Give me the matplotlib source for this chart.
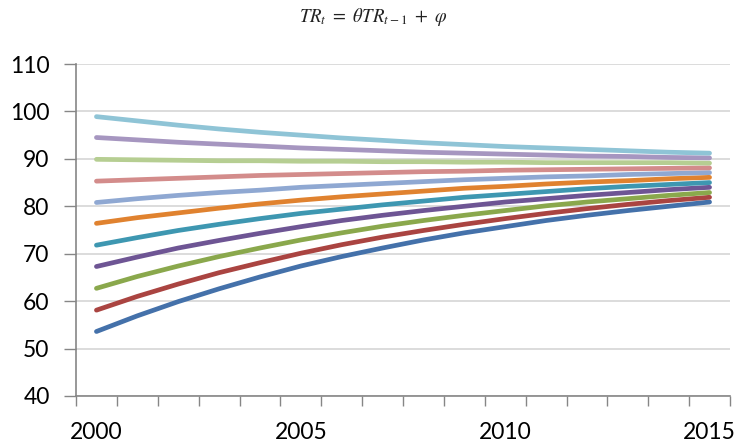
import matplotlib
matplotlib.use("Agg")
import matplotlib.pyplot as plt
from matplotlib.ticker import FixedLocator

years = list(range(2000, 2016))
year_labels = ["2000", "2005", "2010", "2015"]

s01 = [53.6, 56.9, 59.9, 62.6, 65.1, 67.4, 69.4, 71.2, 72.9, 74.4, 75.7, 77.0, 78.1, 79.1, 80.0, 80.9]
s02 = [58.1, 61.0, 63.6, 66.0, 68.1, 70.1, 71.9, 73.5, 74.9, 76.2, 77.4, 78.5, 79.5, 80.4, 81.2, 81.9]
s03 = [62.7, 65.2, 67.4, 69.4, 71.2, 72.9, 74.4, 75.8, 77.0, 78.1, 79.1, 80.1, 80.9, 81.6, 82.3, 82.9]
s04 = [67.3, 69.3, 71.2, 72.8, 74.3, 75.7, 77.0, 78.1, 79.1, 80.0, 80.9, 81.6, 82.3, 82.9, 83.5, 84.0]
s05 = [71.8, 73.4, 74.9, 76.2, 77.4, 78.5, 79.4, 80.3, 81.1, 81.9, 82.5, 83.1, 83.7, 84.2, 84.6, 85.0]
s06 = [76.4, 77.6, 78.6, 79.6, 80.5, 81.3, 82.0, 82.6, 83.2, 83.8, 84.2, 84.7, 85.1, 85.4, 85.8, 86.1]
s07 = [80.8, 81.6, 82.3, 82.9, 83.4, 84.0, 84.4, 84.8, 85.2, 85.6, 85.9, 86.2, 86.4, 86.7, 86.9, 87.1]
s08 = [85.3, 85.6, 85.9, 86.2, 86.5, 86.7, 86.9, 87.1, 87.3, 87.4, 87.6, 87.7, 87.8, 87.9, 88.0, 88.1]
s09 = [89.9, 89.8, 89.7, 89.6, 89.6, 89.5, 89.5, 89.4, 89.4, 89.3, 89.3, 89.2, 89.2, 89.2, 89.2, 89.1]
s10 = [94.5, 94.0, 93.5, 93.1, 92.7, 92.3, 92.0, 91.7, 91.4, 91.2, 91.0, 90.8, 90.6, 90.5, 90.3, 90.2]
s11 = [98.9, 98.0, 97.1, 96.3, 95.6, 95.0, 94.4, 93.9, 93.4, 93.0, 92.6, 92.3, 92.0, 91.7, 91.4, 91.2]

series = [s01, s02, s03, s04, s05, s06, s07, s08, s09, s10, s11]
colors = ["#4471AA", "#AA4441", "#8AA84C", "#6E5594", "#3E97B1",
          "#E0822F", "#8FA8D2", "#D38C8B", "#B6CE92", "#A696C0", "#8FC4D6"]

plt.rcParams['font.family'] = ['Lato', 'DejaVu Sans']
plt.rcParams['mathtext.fontset'] = 'stix'

fig = plt.figure(figsize=(7.46, 4.45), dpi=100)
ax = fig.add_axes([76/746, 1-396/445, (730-76)/746, (396-64)/445])

x = list(range(len(years)))
for s, c in zip(series, colors):
    ax.plot(x, s, color=c, lw=3.4, solid_capstyle='round', solid_joinstyle='round', zorder=3)

ax.set_xlim(-0.5, len(years) - 0.5)
ax.set_ylim(40, 110)
ax.set_yticks(range(40, 111, 10))
ax.yaxis.grid(True, color="#D9D9D9", lw=1.3, zorder=0)
ax.set_axisbelow(True)

label_pos = [years.index(int(l)) for l in year_labels]
ax.set_xticks(label_pos)
ax.set_xticklabels(year_labels)
ax.xaxis.set_minor_locator(FixedLocator([i - 0.5 for i in range(len(years) + 1)]))
ax.tick_params(axis='x', which='major', length=0, pad=18.5, labelsize=16.5, labelcolor='black')
ax.tick_params(axis='x', which='minor', length=7, width=1, color='#868686', direction='out')
ax.tick_params(axis='y', length=9, width=1, color='#868686', direction='out', pad=10,
               labelsize=16.5, labelcolor='black')

for sp in ['top', 'right']:
    ax.spines[sp].set_visible(False)
for sp in ['left', 'bottom']:
    ax.spines[sp].set_color('#868686')
    ax.spines[sp].set_linewidth(1.2)

fig.text(0.5, 1 - 17/445, r'$TR_t\ =\ \theta TR_{t-1}\ +\ \varphi$', ha='center', va='center',
         fontsize=13.5, color='#222222')

fig.savefig("out.png", dpi=100)
